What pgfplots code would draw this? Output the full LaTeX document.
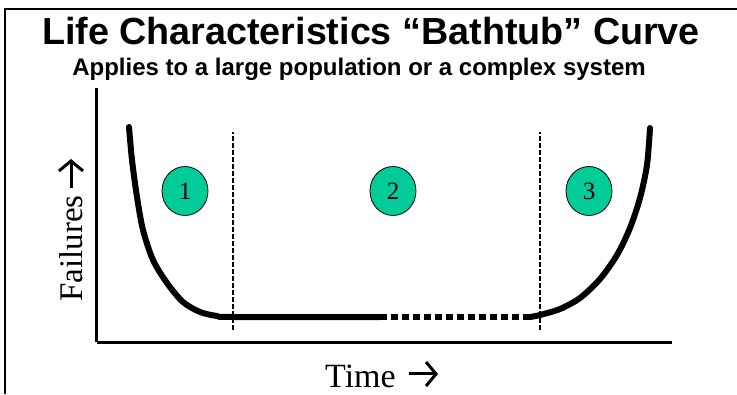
\documentclass[border=0pt]{standalone}
\usepackage{pgfplots}
\pgfplotsset{compat=1.18}
\usepackage{fontspec}
\setmainfont{Liberation Serif}
\newfontfamily\arial{Liberation Sans}
\usetikzlibrary{arrows.meta, shapes.geometric}

\definecolor{zonegreen}{RGB}{0,204,153}

% pixel-like coordinates: 1 unit = 1pt, origin at bottom left
\pgfplotstableread{
x y
129 267
132 234
137 197
143 164
153 134
167 111
183 92
200 82
217 78
233 77
380 77
}\earlylife

\pgfplotstableread{
x y
380 77
530 77
}\usefullife

\pgfplotstableread{
x y
530 77
540 79
560 85
580 96
600 115
617 139
630 166
640 196
647 229
650 266
}\wearout

\begin{document}
\begin{tikzpicture}[x=1pt, y=1pt]
\useasboundingbox (0,0) rectangle (737,394);

% frame of the slide
\draw[line width=1.3pt] (5,0) -- (5,385) -- (737,385);

% titles
\node[anchor=base, font=\arial\bfseries\fontsize{37.7}{40}\selectfont] at (371,349)
  {Life Characteristics “Bathtub” Curve};
\node[anchor=base, font=\arial\bfseries\fontsize{24}{26}\selectfont] at (359,318)
  {Applies to a large population or a complex system};

\begin{axis}[
    scale only axis,
    width=575pt, height=254pt,
    at={(97pt,52pt)}, anchor=south west,
    xmin=97, xmax=672, ymin=52, ymax=306,
    axis lines=left,
    axis line style={-, line width=3pt},
    xtick=\empty, ytick=\empty,
    clip=false,
]
% phase boundaries
\addplot[black, line width=1.3pt, dash pattern=on 4.5pt off 2.5pt] coordinates {(233,64) (233,262)};
\addplot[black, line width=1.3pt, dash pattern=on 4.5pt off 2.5pt] coordinates {(540,64) (540,262)};

% bathtub curve
\addplot[black, line width=6pt, line cap=round, line join=round, smooth, tension=0.5] table[x=x, y=y] {\earlylife};
\addplot[black, line width=6pt, dash pattern=on 7pt off 4pt] table[x=x, y=y] {\usefullife};
\addplot[black, line width=6pt, line cap=round, line join=round, smooth, tension=0.5] table[x=x, y=y] {\wearout};

% phase markers
\foreach \px/\lab in {185/1, 393/2, 589/3} {
  \edef\temp{\noexpand\node[ellipse, draw=black, line width=0.8pt, fill=zonegreen,
    minimum width=46pt, minimum height=49pt, inner sep=0pt,
    font=\noexpand\fontsize{25}{26}\noexpand\selectfont] at (axis cs:\px,203) {\lab};}
  \temp
}

% axis titles
\node[anchor=base west, rotate=90, inner sep=0pt, font=\fontsize{33}{34}\selectfont] at (axis cs:83,92) {Failures};
\node[anchor=base west, inner sep=0pt, font=\fontsize{34}{35}\selectfont] at (axis cs:325,7) {Time};
\end{axis}

% arrows after the axis titles
\draw[line width=3pt, -{Straight Barb[length=10pt, width=24pt]}] (71,206) -- (71,235);
\draw[line width=3pt, -{Straight Barb[length=10pt, width=24pt]}] (409,20) -- (438,20);
\end{tikzpicture}
\end{document}
